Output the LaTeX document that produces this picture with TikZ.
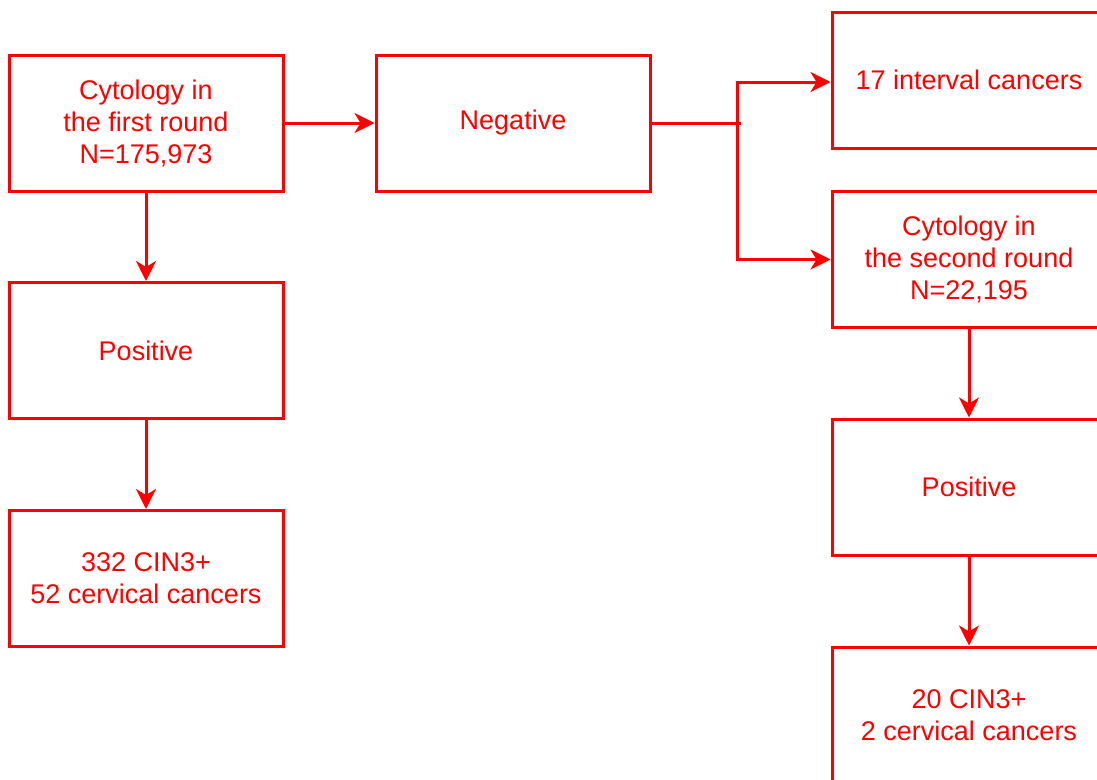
\documentclass[tikz,border=0pt]{standalone}
\usepackage{fontspec}
\setmainfont{Liberation Sans}
\usetikzlibrary{arrows.meta}
\definecolor{fred}{RGB}{255,0,0}
\tikzset{
  box/.style={draw=fred, line width=3pt, rectangle, minimum width=274pt, minimum height=136pt,
    text=fred, align=center, inner sep=0pt, font=\fontsize{27}{32}\selectfont},
  conn/.style={draw=fred, line width=3pt},
  arr/.style={conn, -{Stealth[length=20pt,width=20pt,inset=6pt]}}
}
\begin{document}
\begin{tikzpicture}[x=1pt,y=-1pt]
\useasboundingbox (0,0) rectangle (1097,779);
\clip (0,0) rectangle (1097,779);
\fill[white] (0,0) rectangle (1097,779);
\node[box] (a) at (146,123) {Cytology in\\the first round\\N=175,973};
\node[box] (neg) at (513,123) {Negative};
\node[box] (posl) at (146,350.5) {Positive};
\node[box] (cinl) at (146,578.5) {332 CIN3+\\52 cervical cancers};
\node[box] (int) at (969,80) {17 interval cancers};
\node[box] (cyt2) at (969,259.5) {Cytology in\\the second round\\N=22,195};
\node[box] (posr) at (969,487) {Positive};
\node[box] (cinr) at (969,715) {20 CIN3+\\2 cervical cancers};
\coordinate (tick) at (741,123);
\coordinate (j) at (737,123);
\draw[arr] (a) -- (neg);
\draw[arr] (a) -- (posl);
\draw[arr] (posl) -- (cinl);
\draw[conn] (neg.east) -- (tick);
\draw[arr] (j) |- ([yshift=-2pt]int.west);
\draw[arr] (j) |- (cyt2.west);
\draw[arr] (cyt2) -- (posr);
\draw[arr] (posr) -- (cinr);
\end{tikzpicture}
\end{document}
